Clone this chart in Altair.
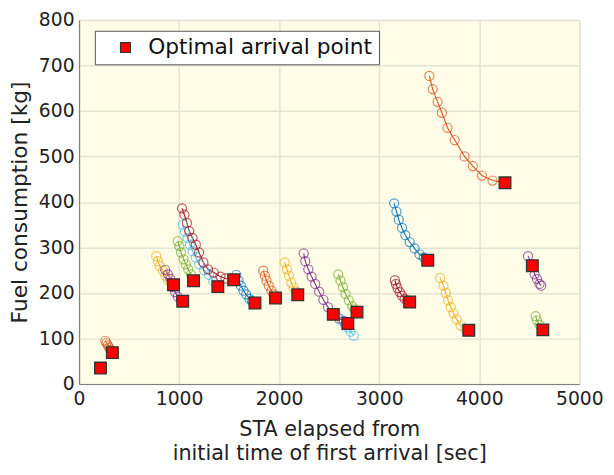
import altair as alt
import pandas as pd

# ---- data (x: STA elapsed [sec], y: fuel [kg]) ----
s01_x = [214]
s01_y = [35]
s02_x = [263, 275, 288, 300, 312, 333]
s02_y = [95, 90, 85, 80, 75, 69]
s03_x = [772, 789, 805, 838, 861, 888, 920, 944]
s03_y = [281, 270, 260, 249, 238, 229, 221, 218]
s04_x = [861, 888, 914, 937, 960, 986, 1019, 1036]
s04_y = [251, 241, 231, 213, 202, 192, 185, 182]
s05_x = [986, 1003, 1019, 1045, 1068, 1091, 1118, 1144]
s05_y = [314, 303, 289, 274, 263, 252, 241, 227]
s06_x = [1036, 1058, 1085, 1108, 1134, 1167, 1200, 1249, 1299, 1340, 1387]
s06_y = [350, 335, 321, 306, 292, 278, 263, 250, 240, 226, 214]
s07_x = [1029, 1052, 1078, 1101, 1134, 1167, 1200, 1243, 1289, 1348, 1413, 1463, 1545]
s07_y = [386, 372, 354, 336, 321, 306, 289, 267, 252, 245, 236, 232, 229]
s08_x = [1571, 1594, 1617, 1644, 1670, 1703, 1730, 1758]
s08_y = [240, 227, 216, 205, 197, 187, 182, 178]
s09_x = [1841, 1857, 1874, 1896, 1923, 1943, 1963]
s09_y = [249, 238, 227, 216, 205, 197, 189]
s10_x = [2055, 2078, 2097, 2120, 2143, 2165, 2186]
s10_y = [267, 252, 238, 223, 212, 203, 196]
s11_x = [2245, 2261, 2291, 2324, 2360, 2400, 2442, 2488, 2541, 2597, 2646]
s11_y = [287, 270, 252, 236, 220, 203, 185, 169, 153, 144, 139]
s12_x = [2590, 2613, 2637, 2663, 2696, 2729, 2752, 2778]
s12_y = [241, 227, 213, 198, 184, 171, 164, 158]
s13_x = [2630, 2660, 2686, 2715, 2745]
s13_y = [138, 130, 124, 115, 106]
s14_x = [3156, 3166, 3182, 3205, 3228, 3254, 3280, 3304]
s14_y = [228, 220, 211, 202, 194, 187, 183, 180]
s15_x = [3149, 3172, 3195, 3228, 3261, 3304, 3353, 3402, 3445, 3485]
s15_y = [397, 379, 361, 343, 327, 312, 298, 285, 278, 272]
s16_x = [3501, 3534, 3583, 3626, 3682, 3754, 3853, 3935, 4027, 4132, 4257]
s16_y = [677, 648, 620, 596, 563, 536, 500, 479, 458, 447, 442]
s17_x = [3609, 3642, 3665, 3688, 3715, 3741, 3774, 3813, 3863, 3895]
s17_y = [233, 216, 200, 184, 169, 156, 142, 129, 120, 118]
s18_x = [4487, 4530, 4553, 4576, 4602, 4619]
s18_y = [281, 260, 241, 231, 220, 216]
s19_x = [4563, 4576, 4602, 4635]
s19_y = [149, 140, 130, 119]

opt_x = [214, 333, 944, 1036, 1144, 1387, 1545, 1758, 1963, 2186, 2541, 2778,
         2686, 3304, 3485, 4257, 3895, 4530, 4635]
opt_y = [35, 69, 218, 182, 227, 214, 229, 178, 189, 196, 153, 158,
         133, 180, 272, 442, 118, 260, 119]

series_xy = [
    (s01_x, s01_y), (s02_x, s02_y), (s03_x, s03_y), (s04_x, s04_y),
    (s05_x, s05_y), (s06_x, s06_y), (s07_x, s07_y), (s08_x, s08_y),
    (s09_x, s09_y), (s10_x, s10_y), (s11_x, s11_y), (s12_x, s12_y),
    (s13_x, s13_y), (s14_x, s14_y), (s15_x, s15_y), (s16_x, s16_y),
    (s17_x, s17_y), (s18_x, s18_y), (s19_x, s19_y),
]

matlab_colors = ["#0072BD", "#D95319", "#EDB120", "#7E2F8E", "#77AC30", "#4DBEEE", "#A2142F"]

rows = []
for i, (xs, ys) in enumerate(series_xy):
    for j, (xv, yv) in enumerate(zip(xs, ys)):
        rows.append({"series": f"s{i+1:02d}", "x": xv, "y": yv, "order": j})
df = pd.DataFrame(rows)
series_names = [f"s{i+1:02d}" for i in range(len(series_xy))]
series_colors = [matlab_colors[i % 7] for i in range(len(series_xy))]

opt_df = pd.DataFrame({"x": opt_x, "y": opt_y, "label": ["Optimal arrival point"] * len(opt_x)})

x_scale = alt.Scale(domain=[0, 5000], nice=False)
y_scale = alt.Scale(domain=[0, 800], nice=False)
x_axis = alt.Axis(values=[0, 1000, 2000, 3000, 4000, 5000], format="d",
                  title=["STA elapsed from", "initial time of first arrival [sec]"])
y_axis = alt.Axis(values=list(range(0, 801, 100)), format="d", title="Fuel consumption [kg]")
color_scale = alt.Scale(domain=series_names, range=series_colors)

base = alt.Chart(df)
lines = base.mark_line(strokeWidth=1.1).encode(
    x=alt.X("x:Q", scale=x_scale, axis=x_axis),
    y=alt.Y("y:Q", scale=y_scale, axis=y_axis),
    color=alt.Color("series:N", scale=color_scale, legend=None),
    order="order:Q",
)
points = base.mark_point(shape="circle", filled=False, size=85, strokeWidth=1.2).encode(
    x=alt.X("x:Q", scale=x_scale),
    y=alt.Y("y:Q", scale=y_scale),
    color=alt.Color("series:N", scale=color_scale, legend=None),
)
opt = alt.Chart(opt_df).mark_square(size=140, opacity=1, stroke="#333333", strokeWidth=1.3).encode(
    x=alt.X("x:Q", scale=x_scale),
    y=alt.Y("y:Q", scale=y_scale),
    fill=alt.Fill("label:N", scale=alt.Scale(domain=["Optimal arrival point"], range=["#FF0000"]),
                  legend=alt.Legend(title=None, orient="none", legendX=16, legendY=11, labelLimit=400)),
)

chart = alt.layer(lines, points, opt).resolve_scale(color="independent").properties(
    width=507, height=369,
    autosize=alt.AutoSizeParams(type="none"),
    padding={"left": 72, "top": 9, "right": 27, "bottom": 80},
    background="white",
).configure_view(
    fill="#FFFDE7", stroke="#D8D8CC", strokeWidth=1,
).configure_axis(
    labelFont="DejaVu Sans", labelFontSize=19, labelColor="#222222",
    titleFont="DejaVu Sans", titleFontSize=22, titleFontWeight="normal", titleColor="#222222",
    gridColor="#E4E4D4", gridWidth=1.5, domainColor="#808080", domainWidth=1.2,
    ticks=False, labelFlush=False, labelPadding=6,
).configure_axisY(
    titlePadding=7, labelPadding=5,
).configure_axisX(
    titlePadding=10, titleLineHeight=24, titleFontSize=21,
).configure_legend(
    fillColor="white", strokeColor="#555555", padding=6, cornerRadius=0,
    labelFont="DejaVu Sans", labelFontSize=22, labelColor="#111111", labelLimit=400,
    symbolType="square", symbolSize=100, symbolStrokeColor="#333333", symbolStrokeWidth=1.2,
    symbolOffset=14, labelOffset=12,
)

chart.save("out.html", embed_options={"renderer": "svg", "actions": False})
